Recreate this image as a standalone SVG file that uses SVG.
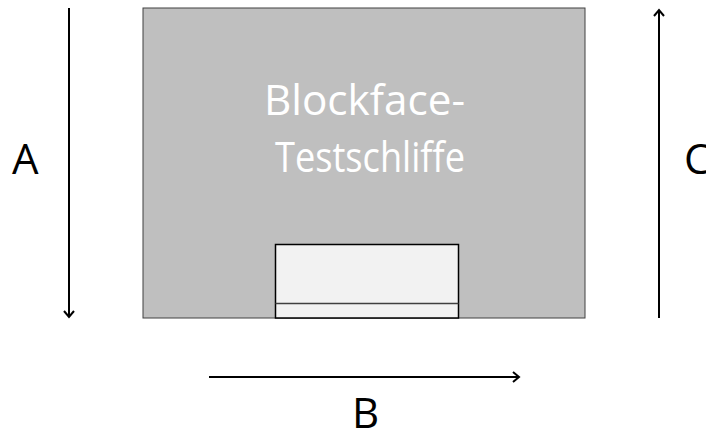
<svg xmlns="http://www.w3.org/2000/svg" width="706" height="432" viewBox="0 0 706 432">
<style>
.lbl{font-family:"Open Sans","Liberation Sans",sans-serif;font-size:42px;fill:#000}
.title{font-family:"Open Sans","Liberation Sans",sans-serif;font-size:42px;fill:#fff}
.arrow{stroke:#000;stroke-width:2;fill:none}
</style>
<defs>
<marker id="ah" markerWidth="14" markerHeight="14" refX="10" refY="7" orient="auto" markerUnits="userSpaceOnUse">
<path d="M4,2 L10,7 L4,12" fill="none" stroke="#000" stroke-width="2"/>
</marker>
</defs>
<g id="block">
<rect x="143" y="8" width="442" height="310" fill="#bfbfbf" stroke="#404040" stroke-width="1"/>
<text class="title" x="264" y="115" textLength="201" lengthAdjust="spacingAndGlyphs">Blockface-</text>
<text class="title" x="275" y="172" textLength="190" lengthAdjust="spacingAndGlyphs">Testschliffe</text>
</g>
<g id="sample">
<rect x="275.5" y="244.5" width="183" height="73.5" fill="#f2f2f2" stroke="#000" stroke-width="1.5"/>
<line x1="275.5" y1="303.5" x2="458.5" y2="303.5" stroke="#404040" stroke-width="1.5"/>
</g>
<g id="connectors">
<line class="arrow" x1="69" y1="8" x2="69" y2="317" marker-end="url(#ah)"/>
<line class="arrow" x1="659" y1="318" x2="659" y2="10" marker-end="url(#ah)"/>
<line class="arrow" x1="209" y1="377" x2="519" y2="377" marker-end="url(#ah)"/>
</g>
<g id="labels">
<text class="lbl" x="12" y="174">A</text>
<text class="lbl" x="684" y="174">C</text>
<text class="lbl" x="352" y="428">B</text>
</g>
</svg>
